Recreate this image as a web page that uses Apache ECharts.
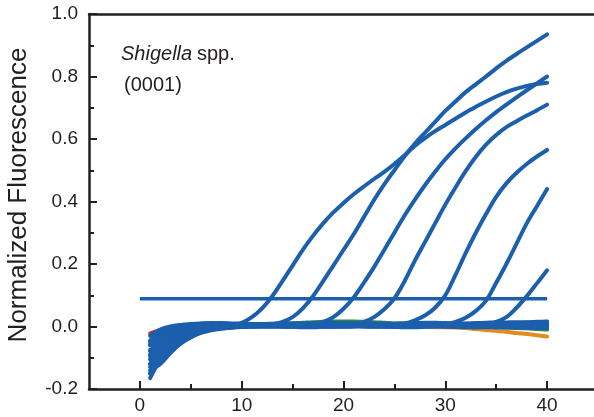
<!DOCTYPE html>
<html>
<head>
<meta charset="utf-8">
<script src="https://cdn.jsdelivr.net/npm/echarts@6/dist/echarts.min.js"></script>
<style>
  html, body { margin: 0; padding: 0; background: #ffffff; }
  #chart { width: 594px; height: 417px; }
</style>
</head>
<body>
<div id="chart"></div>
<script>
// Real-time PCR amplification plot: normalized fluorescence per cycle.
var cycles = [1,2,3,4,5,6,7,8,9,10,11,12,13,14,15,16,17,18,19,20,21,22,23,24,25,26,27,28,29,30,31,32,33,34,35,36,37,38,39,40];

// Amplified samples (dilution series)
var amp1 = [-0.090,-0.050,-0.025,-0.012,-0.006,-0.002,0.000,0.002,0.005,0.012,
            0.030,0.058,0.097,0.145,0.195,0.245,0.290,0.330,0.365,0.395,
            0.423,0.448,0.472,0.495,0.520,0.548,0.578,0.603,0.625,0.645,
            0.665,0.685,0.703,0.720,0.736,0.750,0.761,0.770,0.776,0.780];
var amp2 = [-0.120,-0.070,-0.035,-0.018,-0.010,-0.005,-0.002,0.000,0.002,0.003,
            0.004,0.005,0.007,0.015,0.030,0.058,0.097,0.145,0.195,0.245,
            0.295,0.350,0.405,0.455,0.500,0.545,0.585,0.620,0.655,0.690,
            0.720,0.750,0.775,0.800,0.826,0.850,0.872,0.893,0.914,0.935];
var amp3 = [-0.060,-0.030,-0.012,-0.005,-0.002,0.000,0.002,0.003,0.004,0.004,
            0.005,0.005,0.004,0.004,0.005,0.006,0.008,0.015,0.030,0.057,
            0.093,0.140,0.190,0.245,0.300,0.355,0.405,0.452,0.495,0.535,
            0.570,0.602,0.632,0.660,0.686,0.710,0.733,0.756,0.778,0.800];
var amp4 = [-0.130,-0.090,-0.055,-0.030,-0.017,-0.010,-0.005,-0.002,0.000,0.002,
            0.003,0.004,0.004,0.005,0.005,0.004,0.004,0.005,0.006,0.006,
            0.008,0.015,0.030,0.055,0.090,0.145,0.210,0.270,0.330,0.390,
            0.445,0.497,0.543,0.582,0.613,0.638,0.657,0.675,0.692,0.710];
var amp5 = [-0.080,-0.040,-0.020,-0.010,-0.004,0.000,0.003,0.005,0.006,0.006,
            0.006,0.005,0.004,0.003,0.003,0.004,0.005,0.006,0.006,0.005,
            0.005,0.005,0.006,0.007,0.008,0.010,0.020,0.035,0.060,0.100,
            0.165,0.235,0.300,0.360,0.415,0.458,0.492,0.520,0.544,0.565];
var amp6 = [-0.150,-0.110,-0.070,-0.042,-0.025,-0.015,-0.008,-0.004,-0.001,0.001,
            0.002,0.003,0.003,0.002,0.002,0.003,0.004,0.005,0.005,0.004,
            0.004,0.005,0.006,0.006,0.005,0.005,0.006,0.006,0.007,0.008,
            0.015,0.028,0.050,0.083,0.140,0.200,0.265,0.330,0.385,0.440];
var amp7 = [-0.045,-0.020,-0.008,-0.002,0.002,0.004,0.006,0.007,0.007,0.007,
            0.006,0.006,0.005,0.005,0.005,0.006,0.007,0.007,0.006,0.006,
            0.005,0.005,0.006,0.007,0.007,0.006,0.006,0.006,0.007,0.007,
            0.006,0.006,0.006,0.008,0.015,0.030,0.060,0.097,0.138,0.180];

// Non-amplified samples
var neg1 = [-0.165,-0.105,-0.062,-0.038,-0.022,-0.013,-0.008,-0.004,-0.002,0.000,
            0.001,0.002,0.002,0.001,0.000,-0.001,0.000,0.001,0.002,0.003,
            0.004,0.004,0.003,0.002,0.001,0.001,0.002,0.003,0.004,0.005,
            0.005,0.006,0.007,0.008,0.009,0.010,0.011,0.012,0.013,0.015];
var neg2 = [-0.140,-0.120,-0.085,-0.055,-0.035,-0.020,-0.012,-0.007,-0.004,-0.002,
            -0.001,0.000,0.001,0.002,0.003,0.003,0.002,0.001,0.000,0.000,
            0.001,0.002,0.002,0.001,0.000,-0.001,-0.001,0.000,0.001,0.002,
            0.002,0.003,0.004,0.004,0.005,0.006,0.007,0.008,0.009,0.010];
var neg3 = [-0.105,-0.065,-0.035,-0.018,-0.008,-0.002,0.002,0.004,0.006,0.007,
            0.008,0.008,0.009,0.010,0.010,0.009,0.008,0.008,0.009,0.010,
            0.011,0.011,0.010,0.009,0.008,0.008,0.009,0.010,0.010,0.009,
            0.008,0.007,0.006,0.006,0.005,0.004,0.003,0.002,0.001,0.000];
var neg4 = [-0.030,-0.010,0.000,0.005,0.008,0.010,0.011,0.011,0.010,0.009,
            0.008,0.007,0.007,0.008,0.009,0.010,0.011,0.012,0.012,0.011,
            0.010,0.009,0.008,0.008,0.009,0.010,0.011,0.012,0.012,0.011,
            0.010,0.010,0.011,0.012,0.013,0.013,0.014,0.014,0.015,0.016];
var neg5 = [-0.075,-0.085,-0.052,-0.030,-0.017,-0.009,-0.004,-0.001,0.001,0.002,
            0.003,0.003,0.002,0.001,0.001,0.002,0.003,0.004,0.004,0.003,
            0.002,0.001,0.001,0.002,0.003,0.004,0.004,0.003,0.002,0.001,
            0.000,-0.001,-0.002,-0.002,-0.003,-0.003,-0.004,-0.004,-0.005,-0.005];
var neg6 = [-0.120,-0.095,-0.075,-0.050,-0.030,-0.018,-0.010,-0.005,-0.002,0.000,
            0.000,0.001,0.001,0.000,-0.001,-0.002,-0.002,-0.001,0.000,0.001,
            0.001,0.000,-0.001,-0.001,0.000,0.001,0.002,0.002,0.001,0.000,
            -0.001,-0.001,0.000,0.001,0.002,0.003,0.004,0.005,0.006,0.007];
var neg7 = [-0.095,-0.078,-0.048,-0.028,-0.015,-0.007,-0.002,0.001,0.003,0.004,
            0.005,0.005,0.004,0.004,0.005,0.006,0.006,0.005,0.004,0.004,
            0.005,0.006,0.007,0.007,0.006,0.005,0.005,0.006,0.007,0.008,
            0.008,0.009,0.009,0.010,0.010,0.011,0.011,0.012,0.012,0.013];
var neg8 = [-0.150,-0.098,-0.068,-0.045,-0.028,-0.017,-0.010,-0.006,-0.003,-0.001,
            0.000,0.000,-0.001,-0.001,0.000,0.001,0.001,0.000,-0.001,-0.001,
            0.000,0.001,0.001,0.000,-0.001,-0.002,-0.002,-0.001,0.000,0.000,
            -0.001,-0.002,-0.002,-0.001,0.000,0.001,0.002,0.002,0.003,0.004];
var neg9 = [-0.058,-0.050,-0.030,-0.016,-0.008,-0.003,0.000,0.002,0.003,0.004,
            0.004,0.004,0.003,0.003,0.004,0.005,0.005,0.004,0.003,0.003,
            0.004,0.004,0.003,0.003,0.004,0.005,0.006,0.006,0.005,0.004,
            0.003,0.002,0.002,0.001,0.001,0.000,0.000,-0.001,-0.001,-0.002];
var ctrlGreen = [-0.050,-0.035,-0.020,-0.010,-0.004,0.000,0.003,0.005,0.006,0.007,
                 0.008,0.008,0.008,0.009,0.010,0.012,0.014,0.015,0.016,0.016,
                 0.016,0.015,0.014,0.012,0.010,0.009,0.008,0.008,0.007,0.006,
                 0.005,0.004,0.002,0.000,-0.002,-0.003,-0.005,-0.006,-0.008,-0.010];
var ctrlOrange = [-0.055,-0.035,-0.020,-0.011,-0.006,-0.002,0.000,0.001,0.002,0.002,
                  0.002,0.003,0.003,0.002,0.002,0.001,0.001,0.002,0.002,0.002,
                  0.001,0.001,0.000,0.000,0.000,0.000,-0.001,-0.001,-0.002,-0.002,
                  -0.003,-0.005,-0.008,-0.011,-0.014,-0.017,-0.021,-0.024,-0.028,-0.032];
var ctrlRed = [-0.022,-0.012,-0.005,-0.001,0.001,0.002,0.003,0.003,0.003,0.003,
               0.003,0.002,0.002,0.002,0.002,0.003,0.003,0.003,0.002,0.002,
               0.002,0.002,0.003,0.003,0.003,0.002,0.002,0.002,0.002,0.003,
               0.003,0.003,0.002,0.002,0.002,0.002,0.001,0.001,0.000,0.000];

// Threshold line
var thresholdLevel = 0.089;
var thresholdSpan = [0, 40];

// Tick labels
var xMajorTicks = [0, 10, 20, 30, 40];
var xMinorTicks = [5, 15, 25, 35];

var BLUE = '#1b5fad';
var INK = '#231f20';
var FONT = "'Liberation Sans', Arial, Helvetica, sans-serif";

function pairs(values) {
  return cycles.map(function (c, i) { return [c, values[i]]; });
}

function curve(values, color, z) {
  return {
    type: 'line',
    data: pairs(values),
    showSymbol: false,
    smooth: 0.35,
    z: z,
    silent: true,
    lineStyle: { color: color, width: 4, cap: 'round', join: 'round' }
  };
}

var series = [
  curve(ctrlRed, '#d2322d', 2),
  curve(ctrlOrange, '#e38b1f', 2),
  curve(ctrlGreen, '#2b8d3c', 2),
  curve(neg1, BLUE, 3), curve(neg2, BLUE, 3), curve(neg3, BLUE, 3),
  curve(neg4, BLUE, 3), curve(neg5, BLUE, 3), curve(neg6, BLUE, 3),
  curve(neg7, BLUE, 3), curve(neg8, BLUE, 3), curve(neg9, BLUE, 3),
  curve(amp7, BLUE, 4), curve(amp6, BLUE, 4), curve(amp5, BLUE, 4),
  curve(amp4, BLUE, 4), curve(amp3, BLUE, 4), curve(amp2, BLUE, 4),
  curve(amp1, BLUE, 4),
  {
    type: 'line',
    data: thresholdSpan.map(function (x) { return [x, thresholdLevel]; }),
    showSymbol: false,
    z: 4,
    silent: true,
    lineStyle: { color: BLUE, width: 3.5 }
  }
];

var gridBox = { left: 89, top: 14, width: 509, height: 375, outerBoundsMode: 'none', containLabel: false };

var chart = echarts.init(document.getElementById('chart'), null, { renderer: 'canvas' });
chart.setOption({
  animation: false,
  backgroundColor: '#ffffff',
  grid: [gridBox, Object.assign({}, gridBox)],
  xAxis: [
    {
      gridIndex: 0, type: 'value', position: 'bottom', min: -5, max: 45,
      axisLine: { show: true, onZero: false, lineStyle: { color: INK, width: 2.5 } },
      axisTick: { show: true, inside: true, length: 8, customValues: xMajorTicks, lineStyle: { color: INK, width: 2 } },
      axisLabel: { show: true, customValues: xMajorTicks, color: INK, fontSize: 19, fontFamily: FONT, margin: 7 },
      splitLine: { show: false }
    },
    {
      gridIndex: 0, type: 'value', position: 'top', min: -5, max: 45,
      axisLine: { show: true, onZero: false, lineStyle: { color: INK, width: 2.5 } },
      axisTick: { show: false }, axisLabel: { show: false }, splitLine: { show: false }
    },
    {
      gridIndex: 1, type: 'value', position: 'bottom', min: -5, max: 45,
      axisLine: { show: false, onZero: false },
      axisTick: { show: true, inside: true, length: 5, customValues: xMinorTicks, lineStyle: { color: INK, width: 2 } },
      axisLabel: { show: false }, splitLine: { show: false }
    }
  ],
  yAxis: [
    {
      gridIndex: 0, type: 'value', min: -0.2, max: 1.0, interval: 0.2,
      axisLine: { show: true, onZero: false, lineStyle: { color: INK, width: 2.5 } },
      axisTick: { show: true, inside: true, length: 8, lineStyle: { color: INK, width: 2 } },
      minorTick: { show: true, splitNumber: 2, length: 5, lineStyle: { color: INK, width: 2 } },
      axisLabel: {
        color: INK, fontSize: 19, fontFamily: FONT, margin: 11,
        formatter: function (v) { return v.toFixed(1); }
      },
      splitLine: { show: false }, minorSplitLine: { show: false }
    },
    { gridIndex: 1, type: 'value', min: -0.2, max: 1.0, show: false }
  ],
  series: series,
  graphic: [
    {
      type: 'text', x: 19, y: 195, rotation: Math.PI / 2,
      style: {
        text: 'Normalized Fluorescence', fill: INK,
        font: '26px ' + FONT,
        align: 'center', verticalAlign: 'middle',
        textAlign: 'center', textVerticalAlign: 'middle'
      }
    },
    {
      type: 'text', x: 121, y: 54,
      style: {
        text: 'Shigella', fill: INK, font: 'italic 20px ' + FONT,
        align: 'left', verticalAlign: 'middle', textAlign: 'left', textVerticalAlign: 'middle'
      }
    },
    {
      type: 'text', x: 197, y: 54,
      style: {
        text: 'spp.', fill: INK, font: '20px ' + FONT,
        align: 'left', verticalAlign: 'middle', textAlign: 'left', textVerticalAlign: 'middle'
      }
    },
    {
      type: 'text', x: 124, y: 85.5,
      style: {
        text: '(0001)', fill: INK, font: '20px ' + FONT,
        align: 'left', verticalAlign: 'middle', textAlign: 'left', textVerticalAlign: 'middle'
      }
    }
  ]
});
</script>
</body>
</html>
